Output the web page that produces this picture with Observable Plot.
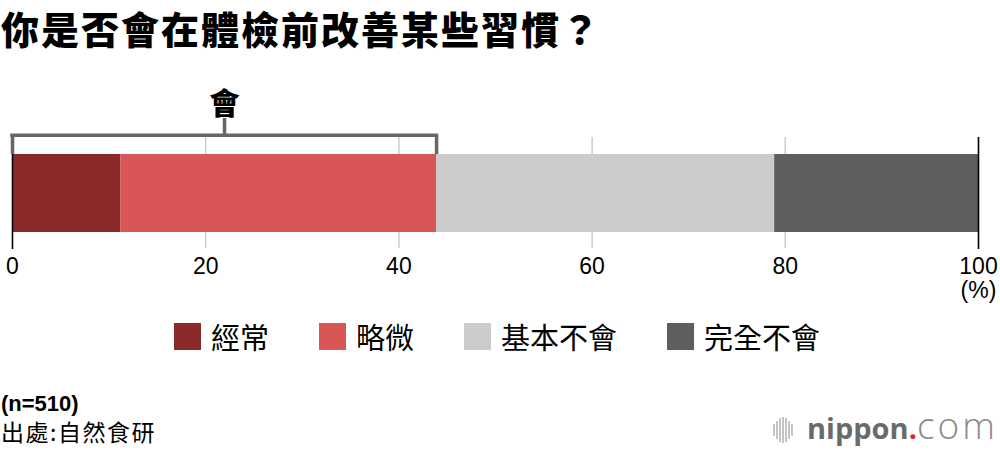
<!DOCTYPE html>
<html><head><meta charset="utf-8">
<script src="https://cdn.jsdelivr.net/npm/d3@7"></script>
<script src="https://cdn.jsdelivr.net/npm/@observablehq/plot@0.6"></script>
<style>
body{margin:0;width:1000px;height:452px;position:relative;overflow:hidden;background:#fff;font-family:"Liberation Sans","Noto Sans CJK TC",sans-serif;color:#000;}
#title{position:absolute;left:1px;top:0px;width:990px;font-size:38px;line-height:55px;font-weight:900;letter-spacing:2px;font-family:"Noto Sans CJK TC",sans-serif;white-space:nowrap;}
#chart{position:absolute;left:0;top:0;}
#legend{position:absolute;left:174px;top:322px;display:flex;gap:50px;font-family:"Noto Sans CJK TC",sans-serif;font-size:29px;line-height:28px;}
#legend .item{display:flex;align-items:center;}
#legend .sw{width:27px;height:27px;margin-right:10px;}
#n{position:absolute;left:1px;top:394px;font-size:22px;line-height:20px;font-weight:bold;font-family:"Liberation Sans",sans-serif;}
#src{position:absolute;left:1px;top:419px;font-size:23px;line-height:24px;letter-spacing:1.5px;font-family:"Noto Sans CJK TC",sans-serif;}
#logo{position:absolute;left:773px;top:405px;display:flex;align-items:baseline;font-family:"Open Sans",sans-serif;font-size:29px;line-height:40px;white-space:nowrap;}
#logo .wave{display:flex;align-items:center;gap:1px;margin-right:14px;height:26px;align-self:center;margin-top:6px;}
#logo .wave span{display:block;width:2px;background:#c4c4c4;}
#logo .nip{font-weight:700;color:#6a6a6a;}
#logo .dot{color:#e8242c;font-weight:700;}
#logo .com{font-weight:300;color:#8a8a8a;font-size:37px;letter-spacing:3px;}
</style></head>
<body>
<div id="title"></div>
<div id="chart"></div>
<div id="legend"></div>
<div id="n"></div>
<div id="src"></div>
<div id="logo"><div class="wave"></div><span class="nip">nippon</span><span class="dot">.</span><span class="com">com</span></div>
<script>
const title = "你是否會在體檢前改善某些習慣？";
const categories = ["經常", "略微", "基本不會", "完全不會"];
const values = [11.2, 32.7, 35.0, 21.1];
const colors = ["#8b2a2b", "#d95657", "#cccccc", "#5e5e5e"];
const ticks = [0, 20, 40, 60, 80, 100];
const groupLabel = "會";
const groupMembers = ["經常", "略微"];
const unitLabel = "(%)";
const nLabel = "(n=510)";
const sourceLabel = "出處:自然食研";
const waveHeights = [12, 18, 24, 26, 24, 18, 12];

document.getElementById("title").textContent = title;
document.getElementById("n").textContent = nLabel;
document.getElementById("src").textContent = sourceLabel;

const rows = categories.map((c, i) => ({q: "q", cat: c, value: values[i]}));
const groupSum = d3.sum(rows.filter(r => groupMembers.includes(r.cat)), r => r.value);
const gridTicks = ticks.filter(t => t !== 0 && t !== 100);
const edgeTicks = [ticks[0], ticks[ticks.length - 1]];

const W = 1000, H = 310, MT = 154, MB = 78;
const frameH = H - MT - MB;

const chart = Plot.plot({
  width: W, height: H,
  marginTop: MT, marginBottom: MB, marginLeft: 12, marginRight: 22,
  style: {fontFamily: "Liberation Sans, Noto Sans CJK TC, sans-serif", background: "transparent", overflow: "visible"},
  x: {domain: [0, 100], axis: null},
  y: {domain: ["q"], axis: null, padding: 0},
  color: {domain: categories, range: colors},
  marks: [
    Plot.ruleX(gridTicks, {x: d => d, stroke: "#cccccc", strokeWidth: 1.5, insetTop: -17, insetBottom: -16}),
    Plot.barX(rows, Plot.stackX({x: "value", y: "q", fill: "cat"})),
    Plot.ruleX(edgeTicks, {x: d => d, stroke: "#000", strokeWidth: 1.6, insetTop: -17, insetBottom: -17}),
    // bracket
    Plot.ruleX([0, groupSum], {x: d => d, stroke: "#666", strokeWidth: 3.5, insetTop: -20, insetBottom: frameH}),
    Plot.rect([groupSum], {x1: 0, x2: d => d, fill: "#666", insetTop: -20.5, insetBottom: frameH + 17, insetLeft: -1.75, insetRight: -1.75}),
    Plot.ruleX([groupSum / 2], {x: d => d, stroke: "#666", strokeWidth: 3.5, insetTop: -36, insetBottom: frameH + 19}),
    Plot.text([groupLabel], {x: () => groupSum / 2, text: d => d, frameAnchor: "top", dy: -62, fontSize: 30, fontWeight: 900, fill: "#000", fontFamily: "Noto Sans CJK TC"}),
    // tick labels
    Plot.text(ticks, {x: d => d, text: d => String(d), frameAnchor: "bottom", dy: 41, fontSize: 23, fill: "#000"}),
    Plot.text([unitLabel], {x: () => 100, text: d => d, frameAnchor: "bottom", dy: 65, fontSize: 23, fill: "#000"})
  ]
});
document.getElementById("chart").appendChild(chart);

const legend = document.getElementById("legend");
categories.forEach((c, i) => {
  const item = document.createElement("div");
  item.className = "item";
  const sw = document.createElement("div");
  sw.className = "sw";
  sw.style.background = colors[i];
  const t = document.createElement("span");
  t.textContent = c;
  item.appendChild(sw); item.appendChild(t);
  legend.appendChild(item);
});

const wave = document.querySelector("#logo .wave");
waveHeights.forEach(h => {
  const s = document.createElement("span");
  s.style.height = h + "px";
  wave.appendChild(s);
});
</script>
</body></html>
